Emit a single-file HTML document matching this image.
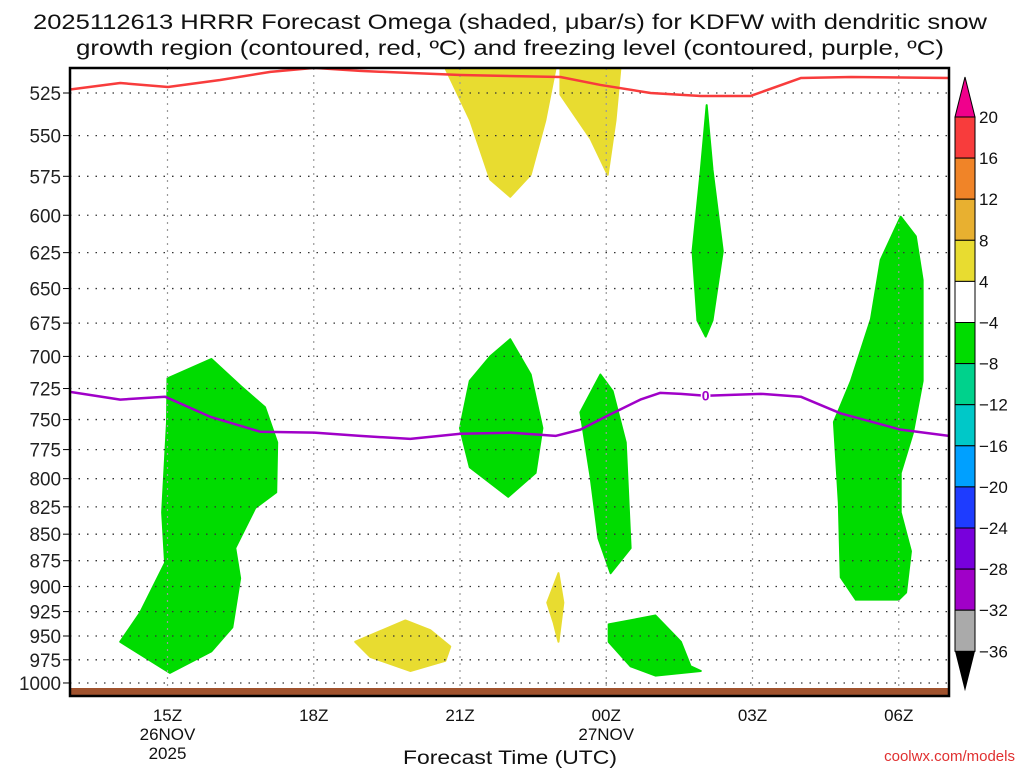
<!DOCTYPE html>
<html><head><meta charset="utf-8"><style>
html,body{margin:0;padding:0;background:#fff;}
svg{display:block;font-family:"Liberation Sans",sans-serif;}
</style></head><body>
<svg id="chart" width="1024" height="768" viewBox="0 0 1024 768" xmlns="http://www.w3.org/2000/svg">
<text x="510" y="29" font-size="21" text-anchor="middle" fill="#111" textLength="954" lengthAdjust="spacingAndGlyphs">2025112613 HRRR Forecast Omega (shaded, μbar/s) for KDFW with dendritic snow</text>
<text x="510" y="55" font-size="21" text-anchor="middle" fill="#111" textLength="868" lengthAdjust="spacingAndGlyphs">growth region (contoured, red, ºC) and freezing level (contoured, purple, ºC)</text>
<g id="plot"></g>
<text x="510" y="764" font-size="19" text-anchor="middle" fill="#111" textLength="214" lengthAdjust="spacingAndGlyphs">Forecast Time (UTC)</text>
<text x="1015" y="761" font-size="15" text-anchor="end" fill="#e03030">coolwx.com/models</text>
<g id="cbar"></g>
</svg>
<script>
const pressureTicks=[525,550,575,600,625,650,675,700,725,750,775,800,825,850,875,900,925,950,975,1000];
const timeTickHours=[2,5,8,11,14,17];
const timeTickLabels=["15Z","18Z","21Z","00Z","03Z","06Z"];
const cbarLevels=[20,16,12,8,4,-4,-8,-12,-16,-20,-24,-28,-32,-36];
const cbarColors=["#f83c3c","#f08428","#e8b030","#e8dc30","#ffffff","#00dc00","#00d28c","#00c8c8","#00a0ff","#1e3cff","#7800dc","#a000c8","#aaaaaa"];
const greenBlob1=[[2.0,717],[2.9,702],[3.5,723],[4.0,740],[4.25,769],[4.23,812],[3.8,826],[3.39,863],[3.49,892],[3.33,941],[2.9,966],[2.05,989],[1.03,956],[1.44,926],[1.95,877],[1.89,830],[1.99,752]];
const greenBlob2=[[8.0,757],[8.2,719],[8.62,700],[9.03,687],[9.45,714],[9.69,757],[9.55,795],[8.99,816],[8.2,790]];
const greenBlob3=[[10.47,744],[10.88,714],[11.13,727],[11.4,769],[11.5,863],[11.09,887],[10.84,854],[10.68,799]];
const greenBlob4=[[13.06,532],[13.18,571],[13.39,624],[13.18,673],[13.04,685],[12.87,673],[12.77,624],[12.94,571]];
const greenBlob5=[[17.04,601],[17.35,614],[17.49,644],[17.49,719],[17.29,761],[17.04,795],[17.04,830],[17.25,866],[17.15,906],[17.0,913],[16.12,913],[15.81,891],[15.77,821],[15.67,752],[16.02,719],[16.43,672],[16.63,630]];
const greenBlob6=[[11.05,938],[12.01,929],[12.53,956],[12.73,982],[12.94,987],[12.01,992],[11.5,982],[11.05,956]];
const yellowBlob1=[[7.7,511],[9.96,511],[9.75,541],[9.45,574],[9.03,588],[8.62,577],[8.21,541]];
const yellowBlob2=[[10.06,511],[11.29,511],[11.19,541],[11.03,574],[10.68,552],[10.06,526]];
const yellowBlob3=[[10.02,887],[10.12,916],[10.02,956],[9.92,936],[9.79,916]];
const yellowBlob4=[[5.85,956],[6.88,934],[7.39,944],[7.8,961],[7.7,976],[6.98,987],[6.16,972]];
const dgzHours=[0,1.03,2.01,3.08,4.11,5.01,5.95,8.01,10.06,10.88,11.91,12.94,13.96,14.99,16.02,18.03];
const dgzPressure=[523,519.3,521.6,517.6,513,510.8,512.5,514.8,515.9,520.4,525,526.7,526.7,516.5,515.9,516.5];
const frzHours=[0,1.03,1.95,2.87,3.9,5.01,5.95,6.98,8.01,9.03,9.96,10.47,10.99,11.7,12.11,12.53,13.04,14.17,14.99,15.81,17.04,18.03];
const frzPressure=[727.6,733.8,731.5,747.6,760,760.8,763.5,766,761.7,760.8,763.5,758.3,747.6,733.8,728.4,729.2,730.7,729.2,731.5,745,758.3,763.5];

const NS="http://www.w3.org/2000/svg";
const L=70,R=949,T=68,B=696;
const xS=h=>L+h*48.75;
const yS=p=>93+(Math.log(p)-Math.log(525))*915.6;
const plot=document.getElementById('plot');
const cbar=document.getElementById('cbar');
function mk(tag,attrs,parent){const e=document.createElementNS(NS,tag);for(const k in attrs)e.setAttribute(k,attrs[k]);parent.appendChild(e);return e;}
const defs=mk('defs',{},plot);
const cp=mk('clipPath',{id:'clip'},defs);
mk('rect',{x:L,y:T,width:R-L,height:B-T},cp);
const fillG=mk('g',{'clip-path':'url(#clip)'},plot);

function poly(pts,color,name){
  const e=mk('polygon',{points:pts.map(q=>xS(q[0])+','+yS(q[1])).join(' '),fill:color,stroke:color,'stroke-width':2,'stroke-linejoin':'round'},fillG);
  
  
}
[[greenBlob1,'omega-green-1'],[greenBlob2,'omega-green-2'],[greenBlob3,'omega-green-3'],[greenBlob4,'omega-green-4'],[greenBlob5,'omega-green-5'],[greenBlob6,'omega-green-6']].forEach(a=>poly(a[0],'#00dc00',a[1]));
[[yellowBlob1,'omega-yellow-1'],[yellowBlob2,'omega-yellow-2'],[yellowBlob3,'omega-yellow-3'],[yellowBlob4,'omega-yellow-4']].forEach(a=>poly(a[0],'#e8dc30',a[1]));

pressureTicks.forEach(p=>{
  const y=yS(p);
  const g=mk('line',{x1:L,x2:R,y1:y,y2:y,stroke:'#333','stroke-width':1.3,'stroke-dasharray':'1.5 7'},plot);
  
  
  mk('line',{x1:L-7,x2:L,y1:y,y2:y,stroke:'#000','stroke-width':1},plot);
  const t=mk('text',{x:L-9,y:y+7,'font-size':19,'text-anchor':'end',fill:'#222',textLength:(String(p).length*10.5),lengthAdjust:'spacingAndGlyphs'},plot);
  t.textContent=p;
  
  
});
timeTickHours.forEach((h,i)=>{
  const x=xS(h);
  const g=mk('line',{x1:x,x2:x,y1:T,y2:B,stroke:'#999','stroke-width':1.2,'stroke-dasharray':'2 5'},plot);
  
  
  const t=mk('text',{x:x,y:721,'font-size':17,'text-anchor':'middle',fill:'#111'},plot);
  t.textContent=timeTickLabels[i];
  
  
});
[[2,'26NOV',740],[2,'2025',759],[11,'27NOV',740]].forEach(d=>{
  const t=mk('text',{x:xS(d[0]),y:d[2],'font-size':17,'text-anchor':'middle',fill:'#111'},plot);
  t.textContent=d[1];
  
  
});
const gr=mk('rect',{x:L,y:688,width:R-L,height:B-688,fill:'#a0522d'},plot);



function line(hs,ps,color,name){
  const d=hs.map((h,i)=>(i?'L':'M')+xS(h)+','+yS(ps[i])).join(' ');
  const e=mk('path',{d:d,fill:'none',stroke:color,'stroke-width':2.5,'stroke-linejoin':'round','clip-path':'url(#clip)'},plot);
  
  
}
line(dgzHours,dgzPressure,'#f83c3c','dendritic-growth-contour');
line(frzHours,frzPressure,'#a000c8','freezing-level-contour');
const zl=mk('text',{x:xS(13.04),y:yS(730.7)+5,'font-size':14,'font-weight':'bold','text-anchor':'middle',fill:'#a000c8',stroke:'#fff','stroke-width':3,'paint-order':'stroke'},plot);
zl.textContent='0';



const fr=mk('rect',{x:L,y:T,width:R-L,height:B-T,fill:'none',stroke:'#000','stroke-width':2.5},plot);



const cx=955,cw=20,cy0=117,step=41.1;
const up=mk('polygon',{points:`${cx},${cy0} ${cx+cw},${cy0} ${cx+cw/2},77`,fill:'#f0008c',stroke:'#000','stroke-width':1},cbar);


cbarColors.forEach((c,i)=>{
  const r=mk('rect',{x:cx,y:cy0+i*step,width:cw,height:step,fill:c,stroke:'#000','stroke-width':1},cbar);
  
  
});
const yb=cy0+cbarColors.length*step;
const dn=mk('polygon',{points:`${cx},${yb} ${cx+cw},${yb} ${cx+cw/2},${yb+40}`,fill:'#000'},cbar);


cbarLevels.forEach((v,i)=>{
  const t=mk('text',{x:979,y:cy0+i*step+6,'font-size':17,fill:'#111'},cbar);
  t.textContent=v<0?'\u2212'+Math.abs(v):String(v);
  
  
});
</script>
</body></html>
